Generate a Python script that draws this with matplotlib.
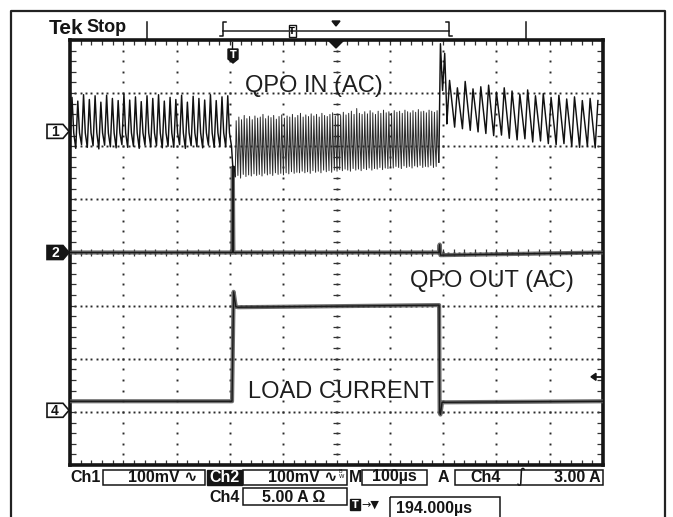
import numpy as np
import matplotlib
matplotlib.use('Agg')
import matplotlib.pyplot as plt
from matplotlib.patches import Rectangle, Polygon

# ---------------------------------------------------------------
# trace data, in screen divisions (graticule is 10 x 8 divisions)
# ---------------------------------------------------------------

# Ch1 : QPO IN (AC) -- one peak / trough per ripple cycle
ch1_pre_span = (-5.0, -1.97)
ch1_pre_peak = [2.92, 2.85, 2.97, 2.88, 2.95, 2.83, 2.96, 2.90, 2.86, 2.98,
                2.87, 2.93, 2.84, 2.95, 2.90, 2.97, 2.85, 2.92, 2.88, 2.96,
                2.83, 2.94, 2.90, 2.87, 2.97, 2.86, 2.93, 2.95]
ch1_pre_trough = [2.00, 1.96, 2.03, 1.98, 2.01, 1.95, 2.02, 1.99, 1.97, 2.03,
                  1.98, 2.00, 1.96, 2.02, 1.99, 2.01, 1.97, 2.00, 1.98, 2.03,
                  1.96, 2.01, 1.99, 1.97, 2.02, 1.98, 2.00, 1.99]
ch1_pre_shoulder = 2.25

ch1_drop_x = [-1.97, -1.945, -1.92, -1.90]
ch1_drop_y = [2.00, 1.60, 1.62, 1.45]

ch1_load_span = (-1.90, 1.92)
ch1_load_peak = [2.48, 2.55, 2.50, 2.58, 2.52, 2.56, 2.50, 2.57, 2.53, 2.55,
                 2.60, 2.52, 2.57, 2.54, 2.58, 2.51, 2.56, 2.59, 2.53,
                 2.57, 2.55, 2.60, 2.54, 2.58, 2.62, 2.55, 2.59, 2.56, 2.61,
                 2.57, 2.60, 2.55, 2.62, 2.58, 2.56, 2.60, 2.63, 2.57,
                 2.60, 2.58, 2.64, 2.59, 2.62, 2.66, 2.60, 2.71, 2.62, 2.60,
                 2.65, 2.61, 2.67, 2.63, 2.60, 2.66, 2.62, 2.68, 2.63,
                 2.65, 2.62, 2.67, 2.64, 2.66, 2.62, 2.68, 2.65, 2.63, 2.67,
                 2.64, 2.69, 2.65, 2.66, 2.63, 2.68, 2.66, 2.64, 2.67]
ch1_load_trough = [1.42, 1.45, 1.40, 1.47, 1.43, 1.46, 1.44, 1.48, 1.45, 1.47,
                   1.44, 1.49, 1.46, 1.48, 1.45, 1.50, 1.47, 1.49, 1.46,
                   1.50, 1.48, 1.52, 1.49, 1.51, 1.50, 1.53, 1.50, 1.52, 1.49,
                   1.54, 1.51, 1.53, 1.50, 1.55, 1.52, 1.54, 1.51, 1.55,
                   1.53, 1.56, 1.54, 1.57, 1.55, 1.53, 1.58, 1.55, 1.57, 1.54,
                   1.58, 1.56, 1.59, 1.55, 1.58, 1.57, 1.60, 1.56, 1.59,
                   1.58, 1.61, 1.59, 1.62, 1.60, 1.58, 1.63, 1.60, 1.62, 1.59,
                   1.63, 1.61, 1.64, 1.60, 1.62, 1.61, 1.64, 1.60, 1.62]
ch1_load_shoulder = 2.00

ch1_rise_x = [1.92, 1.95, 1.99, 2.03, 2.07]
ch1_rise_y = [1.70, 3.93, 3.05, 3.75, 2.60]

ch1_post_span = (2.07, 5.0)
ch1_post_peak = [3.24, 3.10, 3.22, 3.08, 3.12, 3.15, 3.02, 3.10, 3.04, 2.98,
                 3.06, 2.95, 2.99, 2.92, 2.96, 2.89, 2.93, 2.86, 2.90, 2.86]
ch1_post_trough = [2.42, 2.36, 2.33, 2.30, 2.27, 2.24, 2.20, 2.21, 2.15, 2.12,
                   2.14, 2.08, 2.10, 2.05, 2.03, 2.05, 2.00, 1.98, 2.00, 1.97]

# Ch2 : QPO OUT (AC)
ch2_x = [-5.0, -1.955, -1.945, -1.935, 1.92, 1.935, 1.95, 5.0]
ch2_y = [0.0, 0.0, 1.60, 0.0, 0.0, 0.15, -0.05, 0.0]

# Ch4 : load current
ch4_x = [-5.0, -1.96, -1.93, -1.89, -1.85, 1.925, 1.935, 1.95, 1.98, 5.0]
ch4_y = [-2.80, -2.80, -0.74, -1.02, -1.03, -0.99, -3.00, -3.05, -2.82, -2.80]

# channel ground markers (divisions) and trigger level
ch_marks = [('1', 2.28, False), ('2', 0.0, True), ('4', -2.97, False)]
trig_level = -2.34

labels = [('QPO IN (AC)', -0.42, 3.14),
          ('QPO OUT (AC)', 2.91, -0.54),
          ('LOAD CURRENT', 0.09, -2.63)]

W, H, DPI = 673, 517, 100
GX0, GX1, GY0, GY1 = 70.0, 603.0, 40.0, 465.0
SANS = ['Liberation Sans', 'DejaVu Sans']
INK = '#151515'


def ripple(span, peaks, troughs, shoulder=None):
    n = len(peaks)
    step = (span[1] - span[0]) / n
    xs, ys = [], []
    for i in range(n):
        x0 = span[0] + i * step
        xs += [x0, x0 + 0.35 * step]
        ys += [troughs[i], peaks[i]]
        if shoulder is not None:
            xs.append(x0 + 0.65 * step)
            ys.append(shoulder)
    return xs, ys


def div_to_px(y):
    return GY0 + (4 - y) * (GY1 - GY0) / 8


def main():
    fig = plt.figure(figsize=(W / DPI, H / DPI), dpi=DPI)
    fig.patch.set_facecolor('white')

    # scope graticule
    ax = fig.add_axes([GX0 / W, 1 - GY1 / H, (GX1 - GX0) / W, (GY1 - GY0) / H])
    ax.set_xlim(-5, 5)
    ax.set_ylim(-4, 4)
    ax.set_xticks([])
    ax.set_yticks([])
    for s in ax.spines.values():
        s.set_linewidth(2.6)
        s.set_color(INK)

    dx = np.arange(-5, 5.001, 0.2)
    dy = np.arange(-4, 4.001, 0.2)
    fine = np.arange(-5, 5.001, 0.1)
    for xv in range(-4, 5):
        ax.plot(np.full_like(dy, xv), dy, ls='none', marker='s', ms=1.4,
                mew=0, color='#2a2a2a')
    for yv in range(-3, 4):
        ax.plot(fine, np.full_like(fine, yv), ls='none', marker='s', ms=1.4,
                mew=0, color='#2a2a2a')
    tk = dict(lw=0.9, color='#333')
    ax.hlines(dy, -0.07, 0.07, **tk)
    ax.vlines(dx, -0.07, 0.07, **tk)
    ax.vlines(dx, 4 - 0.09, 4, **tk)
    ax.vlines(dx, -4, -4 + 0.09, **tk)
    ax.hlines(dy, -5, -5 + 0.11, **tk)
    ax.hlines(dy, 5 - 0.11, 5, **tk)

    # Ch1 trace, drawn per section (load section is finer / greyer)
    x1, y1 = ripple(ch1_pre_span, ch1_pre_peak, ch1_pre_trough, ch1_pre_shoulder)
    x2, y2 = ripple(ch1_load_span, ch1_load_peak, ch1_load_trough, ch1_load_shoulder)
    x3, y3 = ripple(ch1_post_span, ch1_post_peak, ch1_post_trough)
    ax.plot(x1 + ch1_drop_x, y1 + ch1_drop_y, color='#111111', lw=1.05, zorder=5)
    ax.plot([ch1_drop_x[-1]] + x2 + ch1_rise_x[:1],
            [ch1_drop_y[-1]] + y2 + ch1_rise_y[:1],
            color='#2b2b2b', lw=0.7, zorder=5)
    ax.plot(ch1_rise_x + x3, ch1_rise_y + y3, color='#111111', lw=1.05, zorder=5)

    # Ch2 / Ch4 traces (fuzzy flat lines)
    for tx, ty in [(ch2_x, ch2_y), (ch4_x, ch4_y)]:
        ax.plot(tx, ty, color='#555555', lw=3.0, alpha=0.85, zorder=4,
                solid_capstyle='butt')
        ax.plot(tx, ty, color='#1a1a1a', lw=1.0, zorder=5)

    for txt, lx, ly in labels:
        ax.text(lx, ly, txt, fontsize=17, family=SANS, color='#1e1e1e',
                ha='center', va='center', zorder=6)

    # overlay in pixel coordinates
    ov = fig.add_axes([0, 0, 1, 1], facecolor='none')
    ov.set_xlim(0, W)
    ov.set_ylim(H, 0)
    ov.axis('off')

    ov.plot([11, 11, 665, 665], [H, 10.5, 10.5, H], color='#222', lw=1.6)

    # top status bar
    ov.text(49, 29, 'Tek', fontsize=15, weight='bold', family=SANS,
            va='center', ha='left', color=INK)
    ov.text(86, 28, 'Stop', fontsize=13, weight='bold', family=SANS,
            va='center', ha='left', color=INK)
    for xv in (147, 526):
        ov.plot([xv, xv], [22, 40], color=INK, lw=1.1)
    ov.plot([222.7, 449], [31, 31], color='#333', lw=1.2)
    ov.plot([225.5, 222.7, 222.7, 220], [22, 22, 36, 36], color=INK, lw=1.1)
    ov.plot([446.2, 449, 449, 451.7], [22, 22, 36, 36], color=INK, lw=1.1)
    ov.add_patch(Rectangle((288.5, 25), 7, 12, fc='white', ec=INK, lw=1.0))
    ov.text(292, 31, 'T', fontsize=6, weight='bold', ha='center', va='center')
    ov.add_patch(Polygon([(332, 21), (340, 21), (336, 26)], color=INK))
    ov.add_patch(Polygon([(328, 40), (344, 40), (336, 48)], color=INK))
    ov.plot([232, 232], [42, 49], color=INK, lw=1.0)
    ov.add_patch(Polygon([(228, 49), (238, 49), (238, 59), (233, 63), (228, 59)],
                         color=INK))
    ov.text(233, 55, 'T', fontsize=7, weight='bold', color='white',
            ha='center', va='center')

    # channel ground markers
    for lab, yd, filled in ch_marks:
        yp = div_to_px(yd)
        ov.add_patch(Polygon([(47, yp - 7), (63, yp - 7), (69, yp),
                              (63, yp + 7), (47, yp + 7)],
                             fc=INK if filled else 'white', ec=INK, lw=1.2))
        ov.text(55, yp + 0.5, lab, fontsize=10, weight='bold', family=SANS,
                color='white' if filled else INK, ha='center', va='center')

    # trigger level arrow
    yt = div_to_px(trig_level)
    ov.add_patch(Polygon([(591, yt), (596, yt - 3.5), (596, yt + 3.5)], color=INK))
    ov.plot([595, 601], [yt, yt], color=INK, lw=1.3)

    # readouts
    rd = dict(fontsize=11.5, weight='bold', family=SANS, va='center', color=INK)
    r1, r2 = 477, 497
    box = dict(fc='none', ec=INK, lw=1.1)
    ov.text(70, r1, 'Ch1', ha='left', **rd)
    ov.add_patch(Rectangle((103, 469.5), 102, 15.5, **box))
    ov.text(197, r1, '100mV \u223f', ha='right', **rd)
    ov.add_patch(Rectangle((207, 469.5), 35, 15.5, fc=INK, ec=INK))
    ov.text(224.5, r1, 'Ch2', ha='center', **dict(rd, color='white'))
    ov.add_patch(Rectangle((243, 469.5), 104, 15.5, **box))
    ov.text(337, r1, '100mV \u223f', ha='right', **rd)
    ov.text(338.5, 474, 'B\nW', fontsize=4, ha='left', va='center',
            linespacing=0.8, color=INK)
    ov.text(349, r1, 'M', ha='left', **rd)
    ov.add_patch(Rectangle((362, 469.5), 65, 15.5, **box))
    ov.text(394.5, r1, '100\u00b5s', ha='center', **rd)
    ov.text(438, r1, 'A', ha='left', **rd)
    ov.add_patch(Rectangle((455, 469.5), 148, 15.5, **box))
    ov.text(470, r1, 'Ch4', ha='left', **rd)
    ov.text(521, r1, '\u222b', ha='center', fontsize=14, family=['DejaVu Sans'],
            va='center', color=INK)
    ov.text(601, r1, '3.00 A', ha='right', **rd)

    ov.text(209, r2, 'Ch4', ha='left', **rd)
    ov.add_patch(Rectangle((243, 488), 104, 17, **box))
    ov.text(294, r2, '5.00 A \u03a9', ha='center', **rd)
    ov.add_patch(Rectangle((350, 499), 10, 11, fc=INK, ec=INK))
    ov.text(355, 504.5, 'T', fontsize=7, weight='bold', color='white',
            ha='center', va='center')
    ov.text(361, 505, '\u2192\u25bc', fontsize=8, family=['DejaVu Sans'],
            ha='left', va='center', color=INK)
    ov.add_patch(Rectangle((390, 497), 110, 25, **box))
    ov.text(396, 508, '194.000\u00b5s', ha='left', **rd)

    fig.savefig('out.png', dpi=DPI, facecolor='white')


if __name__ == '__main__':
    main()
